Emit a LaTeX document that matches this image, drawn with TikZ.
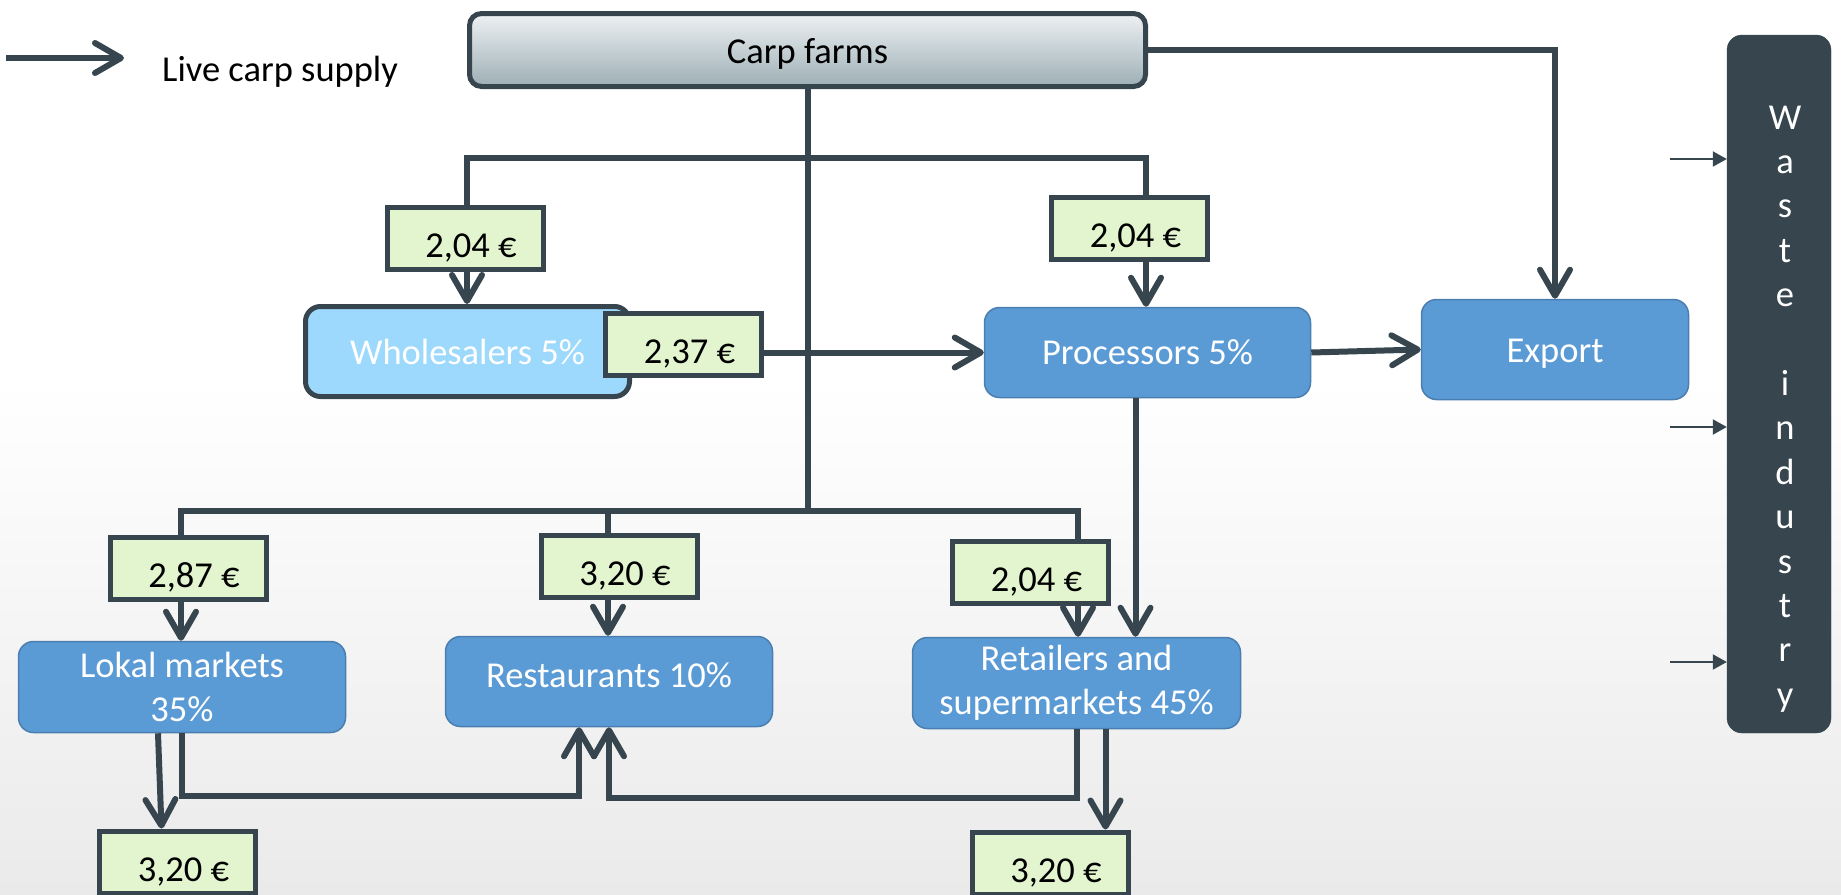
\documentclass[tikz,border=0pt]{standalone}
\usepackage{fontspec}
\setmainfont{Carlito}
\usetikzlibrary{arrows.meta}

\definecolor{slate}{HTML}{37464E}
\definecolor{pricefill}{HTML}{E2F5CF}
\definecolor{midblue}{HTML}{5B9BD5}
\definecolor{midblueline}{HTML}{4A7EB0}
\definecolor{paleblue}{HTML}{9DD9FD}
\definecolor{farmtop}{HTML}{EEF1F3}
\definecolor{farmbot}{HTML}{9DAFB5}
\definecolor{bgbot}{HTML}{EAEAEA}

\newcommand{\boxfont}{\fontsize{36.5}{44}\selectfont}

\begin{document}
\begin{tikzpicture}[x=1pt, y=-1pt,
    link/.style = { line width=6pt, color=slate },
    flow/.style = { link, -{Straight Barb[length=26pt, width=30pt, round]} },
    feed/.style = { line width=2pt, color=slate, -{Triangle[length=14pt, width=15pt]} },
    price/.style = { draw=slate, line width=5pt, fill=pricefill, minimum width=156pt,
                     minimum height=62pt, inner ysep=2pt, text height=42pt, text depth=4pt,
                     execute at begin node=\hspace*{12pt}, font=\boxfont },
    stage/.style = { draw=midblueline, line width=1.5pt, fill=midblue, text=white,
                     rounded corners=15pt, inner sep=2pt, align=center, font=\boxfont },
    ]

    % background
    \fill[white] (0,0) rectangle (1841,894);
    \shade[top color=white, bottom color=bgbot] (0,380) rectangle (1841,894);
    \useasboundingbox (0,0) rectangle (1841,894);

    % legend
    \coordinate (keytail) at (6, 58);
    \coordinate (keyhead) at (124, 58);
    \draw[flow] (keytail) -- (keyhead);
    \node[anchor=west, inner sep=0pt, font=\boxfont] (keytext) at (162, 72) {Live carp supply};

    % stages
    \node[draw=slate, line width=5pt, rounded corners=12pt, top color=farmtop, bottom color=farmbot,
          minimum width=676pt, minimum height=73pt, text height=33pt, text depth=7pt,
          font=\boxfont] (farms) at (807.5, 50) {Carp farms};
    \node[draw=slate, line width=5pt, fill=paleblue, text=white, rounded corners=15pt,
          minimum width=324pt, minimum height=90pt, font=\boxfont] (wholesalers) at (467.5, 351.5) {Wholesalers 5\%};
    \node[stage, minimum width=326pt, minimum height=90pt] (processors) at (1147.5, 352.5) {Processors 5\%};
    \node[stage, minimum width=267pt, minimum height=100pt, text height=33pt, text depth=7pt] (export) at (1555, 349.5) {Export};
    \node[stage, minimum width=327pt, minimum height=91pt] (lokal) at (182, 687) {Lokal markets\\35\%};
    \node[stage, minimum width=327pt, minimum height=90pt, text height=24pt, text depth=12pt] (restaurants) at (609, 681.5) {Restaurants 10\%};
    \node[stage, minimum width=328pt, minimum height=91pt] (retailers) at (1076.5, 683) {Retailers and\\supermarkets 45\%};

    % waste industry
    \node[fill=slate, draw=slate, rounded corners=15pt, minimum width=104pt, minimum height=698pt] (waste) at (1779, 384) {};
    \foreach \ch/\k in {W/0,a/1,s/2,t/3,e/4,i/6,n/7,d/8,u/9,s/10,t/11,r/12,y/13}
        \node[anchor=base, inner sep=0pt, text=white, font=\boxfont] (letter\k) at (1785, 129+44.4*\k) {\ch};

    % prices
    \node[price] (p1) at (465, 238) {2,04 €};
    \node[price] (p2) at (683.5, 344) {2,37 €};
    \node[price] (p3) at (1129.5, 228.5) {2,04 €};
    \node[price] (p4) at (188, 568.5) {2,87 €};
    \node[price] (p5) at (619, 566) {3,20 €};
    \node[price] (p6) at (1030.5, 572) {2,04 €};
    \node[price] (p7) at (177.5, 862) {3,20 €};
    \node[price] (p8) at (1050, 863) {3,20 €};

    % junctions
    \coordinate (upL) at (467, 158);
    \coordinate (upR) at (1146, 158);
    \coordinate (lowL) at (181, 511);
    \coordinate (lowM) at (608, 511);
    \coordinate (lowR) at (1078, 511);

    % from the farms
    \draw[link] (farms.south) -- (farms.south |- lowL);
    \draw[link] (upL |- p1.north) -- (upL) -- (upR) -- (upR |- p3.north);
    \draw[link] (lowL |- p4.north) -- (lowL) -- (lowR) -- (lowR |- p6.north);
    \draw[link] (lowM) -- (lowM |- p5.north);
    \draw[flow] (upL |- p1.south) -- (upL |- wholesalers.north);
    \draw[flow] (upR |- p3.south) -- (upR |- processors.north);
    \draw[flow] (farms.east) -| (export.north);

    % between stages
    \draw[flow] (processors.west -| p2.east) -- (processors.west);
    \draw[flow] (processors.east) -- (export.west);
    \draw[flow] ([xshift=-12pt]processors.south) -- ([xshift=-12pt]processors.south |- retailers.north);

    % down to the buyers
    \draw[flow] (lowL |- p4.south) -- (lowL |- lokal.north);
    \draw[flow] (lowM |- p5.south) -- (lowM |- restaurants.north);
    \draw[flow] (lowR |- p6.south) -- (lowR |- retailers.north);

    % back to the restaurants and on
    \draw[flow] ([xshift=-24pt]lokal.south) -- ([xshift=-16pt]p7.north);
    \draw[flow] (lokal.south) -- ++(0,63) -| ([xshift=-30pt]restaurants.south);
    \draw[flow] (retailers.south) -- ++(0,69) -| (restaurants.south);
    \draw[flow] ([xshift=29pt]retailers.south) -- ([xshift=29pt]retailers.south |- p8.north);

    % into the waste industry
    \coordinate (w1) at (1670, 159);
    \coordinate (w2) at (1670, 427);
    \coordinate (w3) at (1670, 662);
    \draw[feed] (w1) -- (w1 -| waste.west);
    \draw[feed] (w2) -- (w2 -| waste.west);
    \draw[feed] (w3) -- (w3 -| waste.west);

\end{tikzpicture}
\end{document}
